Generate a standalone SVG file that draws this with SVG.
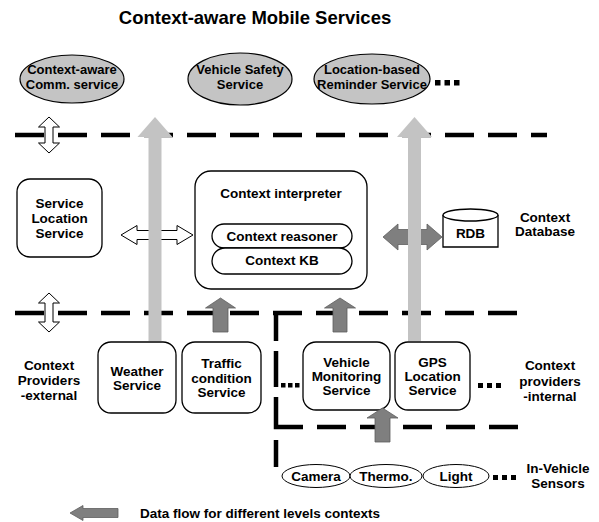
<svg xmlns="http://www.w3.org/2000/svg" width="599" height="522" viewBox="0 0 599 522">
  <style>
    text { font-family: "Liberation Sans", Arial, sans-serif; font-weight: bold; fill: #000; text-anchor: middle; }
    .t { font-size: 13.5px; }
    .e { font-size: 13px; }
    .title { font-size: 18.5px; }
    .box { fill: #fff; stroke: #000; stroke-width: 1.3; }
    .svc { fill: #c4c4c4; stroke: #000; stroke-width: 1.2; }
    .sensor { fill: #fff; stroke: #000; stroke-width: 1; }
    .dash { fill: none; stroke: #000; stroke-width: 4.5; stroke-dasharray: 29 14; }
    .seg { fill: none; stroke: #000; stroke-width: 4.5; }
    .light { fill: #c3c3c3; stroke: none; }
    .dark { fill: #7f7f7f; stroke: #5e5e5e; stroke-width: 0.8; }
    .hollow { fill: #fff; stroke: #000; stroke-width: 1; }
    .dot { fill: #000; }
  </style>

  <text class="title" x="255" y="24">Context-aware Mobile Services</text>

  <!-- layer boundaries -->
  <g id="layer-lines">
    <line class="dash" x1="15" y1="135" x2="547" y2="135"/>
    <line class="dash" x1="15" y1="313" x2="518" y2="313"/>
    <path class="seg" d="M276,313 V341 M276,351 V387 M276,397 V427 H303 M276,440 V467"/>
    <line class="dash" x1="317" y1="427" x2="518" y2="427"/>
  </g>

  <!-- mobile services -->
  <g id="svc-comm">
    <ellipse class="svc" cx="72" cy="79" rx="52" ry="24"/>
    <text class="e" x="72" y="74">Context-aware</text>
    <text class="e" x="72" y="89">Comm. service</text>
  </g>
  <g id="svc-safety">
    <ellipse class="svc" cx="240" cy="79" rx="52" ry="26"/>
    <text class="e" x="240" y="74">Vehicle Safety</text>
    <text class="e" x="240" y="89">Service</text>
  </g>
  <g id="svc-reminder">
    <ellipse class="svc" cx="372" cy="79" rx="58" ry="25"/>
    <text class="e" x="372" y="74">Location-based</text>
    <text class="e" x="372" y="89">Reminder Service</text>
  </g>
  <g id="svc-more">
    <rect class="dot" x="435" y="80" width="5.5" height="5.5"/>
    <rect class="dot" x="444.5" y="80" width="5.5" height="5.5"/>
    <rect class="dot" x="454" y="80" width="5.5" height="5.5"/>
  </g>

  <!-- middle layer -->
  <g id="service-location">
    <rect class="box" x="17" y="179" width="85" height="78" rx="13"/>
    <text class="t" x="59.5" y="208">Service</text>
    <text class="t" x="59.5" y="223">Location</text>
    <text class="t" x="59.5" y="238">Service</text>
  </g>
  <g id="context-interpreter">
    <rect class="box" x="195" y="171" width="172" height="118" rx="16"/>
    <text class="t" x="281" y="198">Context interpreter</text>
  </g>
  <g id="context-reasoner">
    <rect class="box" x="212" y="224" width="140" height="24" rx="12"/>
    <text class="t" x="282" y="241">Context reasoner</text>
  </g>
  <g id="context-kb">
    <rect class="box" x="212" y="248" width="140" height="26" rx="13"/>
    <text class="t" x="282" y="265">Context KB</text>
  </g>
  <g id="rdb">
    <path class="box" d="M443,215 V247 H498 V215"/>
    <ellipse class="box" cx="470.5" cy="215" rx="27.5" ry="6"/>
    <text class="t" x="470.5" y="238">RDB</text>
  </g>
  <g id="label-db">
    <text class="t" x="545" y="222">Context</text>
    <text class="t" x="545" y="236">Database</text>
  </g>

  <!-- context providers -->
  <g id="label-external">
    <text class="t" x="49" y="370">Context</text>
    <text class="t" x="49" y="385">Providers</text>
    <text class="t" x="49" y="400">-external</text>
  </g>
  <g id="weather">
    <rect class="box" x="98" y="342" width="78" height="71" rx="13"/>
    <text class="t" x="137" y="376">Weather</text>
    <text class="t" x="137" y="390">Service</text>
  </g>
  <g id="traffic">
    <rect class="box" x="182" y="342" width="79" height="71" rx="13"/>
    <text class="t" x="221.5" y="368">Traffic</text>
    <text class="t" x="221.5" y="383">condition</text>
    <text class="t" x="221.5" y="397">Service</text>
  </g>
  <g id="vehicle-monitoring">
    <rect class="box" x="303" y="342" width="87" height="68" rx="13"/>
    <text class="t" x="346.5" y="367">Vehicle</text>
    <text class="t" x="346.5" y="381">Monitoring</text>
    <text class="t" x="346.5" y="395">Service</text>
  </g>
  <g id="gps">
    <rect class="box" x="395" y="342" width="75" height="68" rx="13"/>
    <text class="t" x="432.5" y="367">GPS</text>
    <text class="t" x="432.5" y="381">Location</text>
    <text class="t" x="432.5" y="395">Service</text>
  </g>
  <g id="internal-more">
    <rect class="dot" x="281" y="383" width="4.5" height="4.5"/>
    <rect class="dot" x="288" y="383" width="4.5" height="4.5"/>
    <rect class="dot" x="295" y="383" width="4.5" height="4.5"/>
    <rect class="dot" x="478" y="383" width="5" height="5"/>
    <rect class="dot" x="487" y="383" width="5" height="5"/>
    <rect class="dot" x="496" y="383" width="5" height="5"/>
  </g>
  <g id="label-internal">
    <text class="t" x="550" y="370">Context</text>
    <text class="t" x="550" y="386">providers</text>
    <text class="t" x="550" y="401">-internal</text>
  </g>

  <!-- sensors -->
  <g id="camera">
    <ellipse class="sensor" cx="316" cy="476" rx="34" ry="11.5"/>
    <text class="t" x="316" y="481">Camera</text>
  </g>
  <g id="thermo">
    <ellipse class="sensor" cx="386" cy="476" rx="36" ry="11.5"/>
    <text class="t" x="386" y="481">Thermo.</text>
  </g>
  <g id="light">
    <ellipse class="sensor" cx="456" cy="476" rx="33" ry="11.5"/>
    <text class="t" x="456" y="481">Light</text>
  </g>
  <g id="sensor-more">
    <rect class="dot" x="493" y="475" width="5" height="5"/>
    <rect class="dot" x="502" y="475" width="5" height="5"/>
    <rect class="dot" x="511" y="475" width="5" height="5"/>
  </g>
  <g id="label-sensors">
    <text class="t" x="558" y="473">In-Vehicle</text>
    <text class="t" x="558" y="488">Sensors</text>
  </g>

  <!-- connectors -->
  <g id="connectors">
    <polygon class="hollow" points="49,117 59.5,127 53,127 53,143 59.5,143 49,153 38.5,143 45,143 45,127 38.5,127"/>
    <polygon class="hollow" points="49,293 59.5,303 53,303 53,322 59.5,322 49,332 38.5,322 45,322 45,303 38.5,303"/>
    <polygon class="hollow" points="121,235 137,225.5 137,230.5 177,230.5 177,225.5 193,235 177,244.5 177,239.5 137,239.5 137,244.5"/>
    <polygon class="dark" points="383,237 398,224 398,229.5 427,229.5 427,224 442,237 427,250 427,244.5 398,244.5 398,250"/>
    <polygon class="light" points="155,117 172.5,137 161.5,137 161.5,341 148.5,341 148.5,137 137.5,137"/>
    <polygon class="light" points="414.5,117 432,137 421,137 421,341 408,341 408,137 397,137"/>
    <polygon class="dark" points="220.5,298 235.5,308 228,308 228,332 213,332 213,308 205.5,308"/>
    <polygon class="dark" points="340,298 355.5,308 347,308 347,332 333,332 333,308 324.5,308"/>
    <polygon class="dark" points="382.5,408 398,418 390,418 390,442 375,442 375,418 367,418"/>
  </g>

  <!-- legend -->
  <g id="legend">
    <polygon class="dark" points="70,513 83,505.5 83,508.5 118,508.5 118,517.5 83,517.5 83,520.5"/>
    <text class="t" x="140" y="518" style="text-anchor:start">Data flow for different levels contexts</text>
  </g>
</svg>
